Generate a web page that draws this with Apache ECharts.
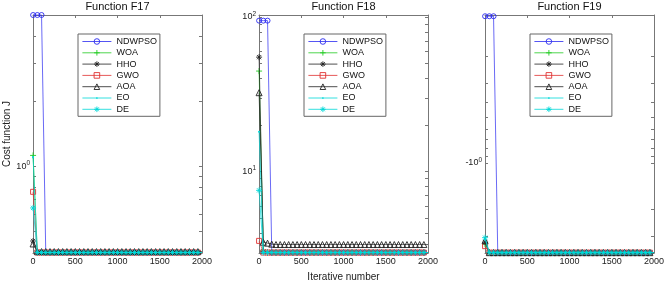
<!DOCTYPE html>
<html>
<head>
<meta charset="utf-8">
<script src="https://cdn.jsdelivr.net/npm/echarts@6/dist/echarts.min.js"></script>
<style>
  html, body { margin: 0; padding: 0; background: #fff; }
  #chart { width: 669px; height: 284px; }
</style>
</head>
<body>
<div id="chart"></div>
<script>
// iterations where markers sit (every 50), plus the last iteration
const ITERS = [1, 51, 101, 151, 201, 251, 301, 351, 401, 451,
  501, 551, 601, 651, 701, 751, 801, 851, 901, 951,
  1001, 1051, 1101, 1151, 1201, 1251, 1301, 1351, 1401, 1451,
  1501, 1551, 1601, 1651, 1701, 1751, 1801, 1851, 1901, 1951, 2000];

const NAMES = ['NDWPSO', 'WOA', 'HHO', 'GWO', 'AOA', 'EO', 'DE'];
const TITLES = ['Function F17', 'Function F18', 'Function F19'];

// F17
const F17_NDWPSO = [5, 5, 5, 0.398, 0.398, 0.398, 0.398, 0.398, 0.398, 0.398,
  0.398, 0.398, 0.398, 0.398, 0.398, 0.398, 0.398, 0.398, 0.398, 0.398,
  0.398, 0.398, 0.398, 0.398, 0.398, 0.398, 0.398, 0.398, 0.398, 0.398,
  0.398, 0.398, 0.398, 0.398, 0.398, 0.398, 0.398, 0.398, 0.398, 0.398, 0.398];
const F17_WOA = [1.12, 0.399, 0.398, 0.398, 0.398, 0.398, 0.398, 0.398, 0.398, 0.398,
  0.398, 0.398, 0.398, 0.398, 0.398, 0.398, 0.398, 0.398, 0.398, 0.398,
  0.398, 0.398, 0.398, 0.398, 0.398, 0.398, 0.398, 0.398, 0.398, 0.398,
  0.398, 0.398, 0.398, 0.398, 0.398, 0.398, 0.398, 0.398, 0.398, 0.398, 0.398];
const F17_HHO = [0.45, 0.398, 0.398, 0.398, 0.398, 0.398, 0.398, 0.398, 0.398, 0.398,
  0.398, 0.398, 0.398, 0.398, 0.398, 0.398, 0.398, 0.398, 0.398, 0.398,
  0.398, 0.398, 0.398, 0.398, 0.398, 0.398, 0.398, 0.398, 0.398, 0.398,
  0.398, 0.398, 0.398, 0.398, 0.398, 0.398, 0.398, 0.398, 0.398, 0.398, 0.398];
const F17_GWO = [0.76, 0.398, 0.398, 0.398, 0.398, 0.398, 0.398, 0.398, 0.398, 0.398,
  0.398, 0.398, 0.398, 0.398, 0.398, 0.398, 0.398, 0.398, 0.398, 0.398,
  0.398, 0.398, 0.398, 0.398, 0.398, 0.398, 0.398, 0.398, 0.398, 0.398,
  0.398, 0.398, 0.398, 0.398, 0.398, 0.398, 0.398, 0.398, 0.398, 0.398, 0.398];
const F17_AOA = [0.436, 0.402, 0.402, 0.402, 0.402, 0.402, 0.402, 0.402, 0.402, 0.402,
  0.402, 0.402, 0.402, 0.402, 0.402, 0.402, 0.402, 0.402, 0.402, 0.402,
  0.402, 0.402, 0.402, 0.402, 0.402, 0.402, 0.402, 0.402, 0.402, 0.402,
  0.402, 0.402, 0.402, 0.402, 0.402, 0.402, 0.402, 0.402, 0.402, 0.402, 0.402];
const F17_EO = [1.1, 0.398, 0.398, 0.398, 0.398, 0.398, 0.398, 0.398, 0.398, 0.398,
  0.398, 0.398, 0.398, 0.398, 0.398, 0.398, 0.398, 0.398, 0.398, 0.398,
  0.398, 0.398, 0.398, 0.398, 0.398, 0.398, 0.398, 0.398, 0.398, 0.398,
  0.398, 0.398, 0.398, 0.398, 0.398, 0.398, 0.398, 0.398, 0.398, 0.398, 0.398];
const F17_DE = [0.64, 0.398, 0.398, 0.398, 0.398, 0.398, 0.398, 0.398, 0.398, 0.398,
  0.398, 0.398, 0.398, 0.398, 0.398, 0.398, 0.398, 0.398, 0.398, 0.398,
  0.398, 0.398, 0.398, 0.398, 0.398, 0.398, 0.398, 0.398, 0.398, 0.398,
  0.398, 0.398, 0.398, 0.398, 0.398, 0.398, 0.398, 0.398, 0.398, 0.398, 0.398];

// F18
const F18_NDWPSO = [94.7, 94.7, 94.7, 3, 3, 3, 3, 3, 3, 3,
  3, 3, 3, 3, 3, 3, 3, 3, 3, 3,
  3, 3, 3, 3, 3, 3, 3, 3, 3, 3,
  3, 3, 3, 3, 3, 3, 3, 3, 3, 3, 3];
const F18_WOA = [44.7, 3.1, 3, 3, 3, 3, 3, 3, 3, 3,
  3, 3, 3, 3, 3, 3, 3, 3, 3, 3,
  3, 3, 3, 3, 3, 3, 3, 3, 3, 3,
  3, 3, 3, 3, 3, 3, 3, 3, 3, 3, 3];
const F18_HHO = [55, 3.05, 3, 3, 3, 3, 3, 3, 3, 3,
  3, 3, 3, 3, 3, 3, 3, 3, 3, 3,
  3, 3, 3, 3, 3, 3, 3, 3, 3, 3,
  3, 3, 3, 3, 3, 3, 3, 3, 3, 3, 3];
const F18_GWO = [3.57, 3, 3, 3, 3, 3, 3, 3, 3, 3,
  3, 3, 3, 3, 3, 3, 3, 3, 3, 3,
  3, 3, 3, 3, 3, 3, 3, 3, 3, 3,
  3, 3, 3, 3, 3, 3, 3, 3, 3, 3, 3];
const F18_AOA = [32.4, 3.5, 3.45, 3.4, 3.38, 3.38, 3.38, 3.38, 3.38, 3.38,
  3.38, 3.38, 3.38, 3.38, 3.38, 3.38, 3.38, 3.38, 3.38, 3.38,
  3.38, 3.38, 3.38, 3.38, 3.38, 3.38, 3.38, 3.38, 3.38, 3.38,
  3.38, 3.38, 3.38, 3.38, 3.38, 3.38, 3.38, 3.38, 3.38, 3.38, 3.38];
const F18_EO = [18.1, 3, 3, 3, 3, 3, 3, 3, 3, 3,
  3, 3, 3, 3, 3, 3, 3, 3, 3, 3,
  3, 3, 3, 3, 3, 3, 3, 3, 3, 3,
  3, 3, 3, 3, 3, 3, 3, 3, 3, 3, 3];
const F18_DE = [7.57, 3, 3, 3, 3, 3, 3, 3, 3, 3,
  3, 3, 3, 3, 3, 3, 3, 3, 3, 3,
  3, 3, 3, 3, 3, 3, 3, 3, 3, 3,
  3, 3, 3, 3, 3, 3, 3, 3, 3, 3, 3];

// F19 (negative costs)
const F19_NDWPSO = [-0.11, -0.11, -0.11, -3.86, -3.86, -3.86, -3.86, -3.86, -3.86, -3.86,
  -3.86, -3.86, -3.86, -3.86, -3.86, -3.86, -3.86, -3.86, -3.86, -3.86,
  -3.86, -3.86, -3.86, -3.86, -3.86, -3.86, -3.86, -3.86, -3.86, -3.86,
  -3.86, -3.86, -3.86, -3.86, -3.86, -3.86, -3.86, -3.86, -3.86, -3.86, -3.86];
const F19_WOA = [-3.4, -3.86, -3.86, -3.86, -3.86, -3.86, -3.86, -3.86, -3.86, -3.86,
  -3.86, -3.86, -3.86, -3.86, -3.86, -3.86, -3.86, -3.86, -3.86, -3.86,
  -3.86, -3.86, -3.86, -3.86, -3.86, -3.86, -3.86, -3.86, -3.86, -3.86,
  -3.86, -3.86, -3.86, -3.86, -3.86, -3.86, -3.86, -3.86, -3.86, -3.86, -3.86];
const F19_HHO = [-3.3, -3.86, -3.86, -3.86, -3.86, -3.86, -3.86, -3.86, -3.86, -3.86,
  -3.86, -3.86, -3.86, -3.86, -3.86, -3.86, -3.86, -3.86, -3.86, -3.86,
  -3.86, -3.86, -3.86, -3.86, -3.86, -3.86, -3.86, -3.86, -3.86, -3.86,
  -3.86, -3.86, -3.86, -3.86, -3.86, -3.86, -3.86, -3.86, -3.86, -3.86, -3.86];
const F19_GWO = [-3.5, -3.86, -3.86, -3.86, -3.86, -3.86, -3.86, -3.86, -3.86, -3.86,
  -3.86, -3.86, -3.86, -3.86, -3.86, -3.86, -3.86, -3.86, -3.86, -3.86,
  -3.86, -3.86, -3.86, -3.86, -3.86, -3.86, -3.86, -3.86, -3.86, -3.86,
  -3.86, -3.86, -3.86, -3.86, -3.86, -3.86, -3.86, -3.86, -3.86, -3.86, -3.86];
const F19_AOA = [-3.22, -3.86, -3.86, -3.86, -3.86, -3.86, -3.86, -3.86, -3.86, -3.86,
  -3.86, -3.86, -3.86, -3.86, -3.86, -3.86, -3.86, -3.86, -3.86, -3.86,
  -3.86, -3.86, -3.86, -3.86, -3.86, -3.86, -3.86, -3.86, -3.86, -3.86,
  -3.86, -3.86, -3.86, -3.86, -3.86, -3.86, -3.86, -3.86, -3.86, -3.86, -3.86];
const F19_EO = [-3.15, -3.86, -3.86, -3.86, -3.86, -3.86, -3.86, -3.86, -3.86, -3.86,
  -3.86, -3.86, -3.86, -3.86, -3.86, -3.86, -3.86, -3.86, -3.86, -3.86,
  -3.86, -3.86, -3.86, -3.86, -3.86, -3.86, -3.86, -3.86, -3.86, -3.86,
  -3.86, -3.86, -3.86, -3.86, -3.86, -3.86, -3.86, -3.86, -3.86, -3.86, -3.86];
const F19_DE = [-3.08, -3.86, -3.86, -3.86, -3.86, -3.86, -3.86, -3.86, -3.86, -3.86,
  -3.86, -3.86, -3.86, -3.86, -3.86, -3.86, -3.86, -3.86, -3.86, -3.86,
  -3.86, -3.86, -3.86, -3.86, -3.86, -3.86, -3.86, -3.86, -3.86, -3.86,
  -3.86, -3.86, -3.86, -3.86, -3.86, -3.86, -3.86, -3.86, -3.86, -3.86, -3.86];

// y ticks (log axis; F19 is drawn on |y|)
const F17_TICKS = [0.4, 0.5, 0.6, 0.7, 0.8, 0.9, 1, 2, 3, 4];
const F17_LABELS = [1];
const F18_TICKS = [3, 4, 5, 6, 7, 8, 9, 10, 20, 30, 40, 50, 60, 70, 80, 90, 100];
const F18_LABELS = [10, 100];
const F19_TICKS = [0.2, 0.3, 0.4, 0.5, 0.6, 0.7, 0.8, 0.9, 1, 2, 3];
const F19_LABELS = [1];

const FONT = '"Liberation Sans", Arial, sans-serif';
const AXIS_COLOR = '#777';
const COLORS = ['#2a2af0', '#22cc22', '#222222', '#e03030', '#222222', '#00d8d8', '#00d8d8'];
const STAR = 'path://M0,5H10M5,0V10M1.5,1.5L8.5,8.5M8.5,1.5L1.5,8.5';
// small dot inside a 10x10 box, like matlab's '.' marker
const DOT = 'path://M0,0M10,10M3.5,5A1.5,1.5,0,1,1,6.5,5A1.5,1.5,0,1,1,3.5,5Z';
const SYMBOLS = ['circle', 'path://M0,5H10M5,0V10', STAR, 'rect', 'triangle', DOT, STAR];
const SIZES = [5, 6, 6, 5, 6, 7, 6];
const CLEAR = 'rgba(0,0,0,0)';

const panels = [
  { data: [F17_NDWPSO, F17_WOA, F17_HHO, F17_GWO, F17_AOA, F17_EO, F17_DE], min: 0.396, max: 5,
    ticks: F17_TICKS, labels: F17_LABELS, neg: false },
  { data: [F18_NDWPSO, F18_WOA, F18_HHO, F18_GWO, F18_AOA, F18_EO, F18_DE], min: 2.98, max: 103,
    ticks: F18_TICKS, labels: F18_LABELS, neg: false },
  { data: [F19_NDWPSO, F19_WOA, F19_HHO, F19_GWO, F19_AOA, F19_EO, F19_DE], min: 0.108, max: 3.88,
    ticks: F19_TICKS, labels: F19_LABELS, neg: true }
];

const GRID_LEFT = [33, 259, 485];
const PLOT_W = 169, PLOT_TOP = 15, PLOT_H = 238;

const chart = echarts.init(document.getElementById('chart'));

const grid = [], xAxis = [], yAxis = [], series = [], legend = [], graphic = [];

const markerStyle = j => j === 5
  ? { color: COLORS[j], borderWidth: 0 }
  : { color: CLEAR, borderColor: COLORS[j], borderWidth: 0.9 };

panels.forEach((p, i) => {
  grid.push({ left: GRID_LEFT[i], top: PLOT_TOP, width: PLOT_W, height: PLOT_H });
  ['bottom', 'top'].forEach(pos => {
    xAxis.push({
      type: 'value', gridIndex: i, position: pos, min: 0, max: 2000, interval: 500,
      axisLine: { show: true, onZero: false, lineStyle: { color: AXIS_COLOR } },
      axisTick: { show: true, inside: true, length: 3, lineStyle: { color: AXIS_COLOR } },
      axisLabel: { show: pos === 'bottom', color: '#222', fontSize: 9, fontFamily: FONT, margin: 4,
        formatter: v => String(v) },
      splitLine: { show: false }
    });
  });
  ['left', 'right'].forEach(pos => {
    yAxis.push({
      type: 'log', logBase: 10, gridIndex: i, position: pos, min: p.min, max: p.max, inverse: p.neg,
      axisLine: { show: true, onZero: false, lineStyle: { color: AXIS_COLOR } },
      axisTick: { show: true, inside: true, length: 3, customValues: p.ticks, lineStyle: { color: AXIS_COLOR } },
      axisLabel: {
        show: pos === 'left', customValues: p.labels, margin: 3, color: '#222', fontFamily: FONT, fontSize: 9,
        formatter: v => (p.neg ? '-' : '') + '{b|10}{s|' + Math.round(Math.log10(v)) + '}',
        rich: {
          b: { fontSize: 9, fontFamily: FONT, color: '#222' },
          s: { fontSize: 6.5, fontFamily: FONT, color: '#222', padding: [0, 0, 6, 0] }
        }
      },
      splitLine: { show: false }
    });
  });
  p.data.forEach((vals, j) => {
    series.push({
      type: 'line', name: NAMES[j], xAxisIndex: 2 * i, yAxisIndex: 2 * i,
      data: vals.map((v, k) => {
        const pt = [ITERS[k], p.neg ? Math.abs(v) : v];
        return k === ITERS.length - 1 ? { value: pt, symbol: 'none' } : pt;
      }),
      symbol: SYMBOLS[j], symbolSize: SIZES[j], showSymbol: true,
      lineStyle: { color: COLORS[j], width: 0.7 },
      itemStyle: markerStyle(j),
      clip: false, animation: false, z: 2 + j,
      emphasis: { disabled: true }
    });
  });
  legend.push({
    orient: 'vertical', left: GRID_LEFT[i] + 45, top: 34,
    data: NAMES.map((n, j) => ({ name: n, itemStyle: markerStyle(j), lineStyle: { color: COLORS[j], width: 0.8 } })),
    itemWidth: 29, itemHeight: 7, itemGap: 0.3, padding: [2, 3, 1.5, 4],
    backgroundColor: '#fff', borderColor: '#666', borderWidth: 1,
    textStyle: { fontSize: 9, fontFamily: FONT, color: '#111', lineHeight: 11 },
    selectedMode: false
  });
  graphic.push({
    type: 'text', x: GRID_LEFT[i] + PLOT_W / 2, y: 7,
    style: { text: TITLES[i], font: '11px ' + FONT, fill: '#111', align: 'center', verticalAlign: 'middle' }
  });
});

graphic.push({
  type: 'text', x: 7, y: 134, rotation: Math.PI / 2,
  style: { text: 'Cost function J', font: '10px ' + FONT, fill: '#222', align: 'center', verticalAlign: 'middle' }
});
graphic.push({
  type: 'text', x: GRID_LEFT[1] + PLOT_W / 2, y: 277,
  style: { text: 'Iterative number', font: '10px ' + FONT, fill: '#222', align: 'center', verticalAlign: 'middle' }
});

chart.setOption({
  backgroundColor: '#fff',
  animation: false,
  grid, xAxis, yAxis, series, legend, graphic
});
</script>
</body>
</html>
